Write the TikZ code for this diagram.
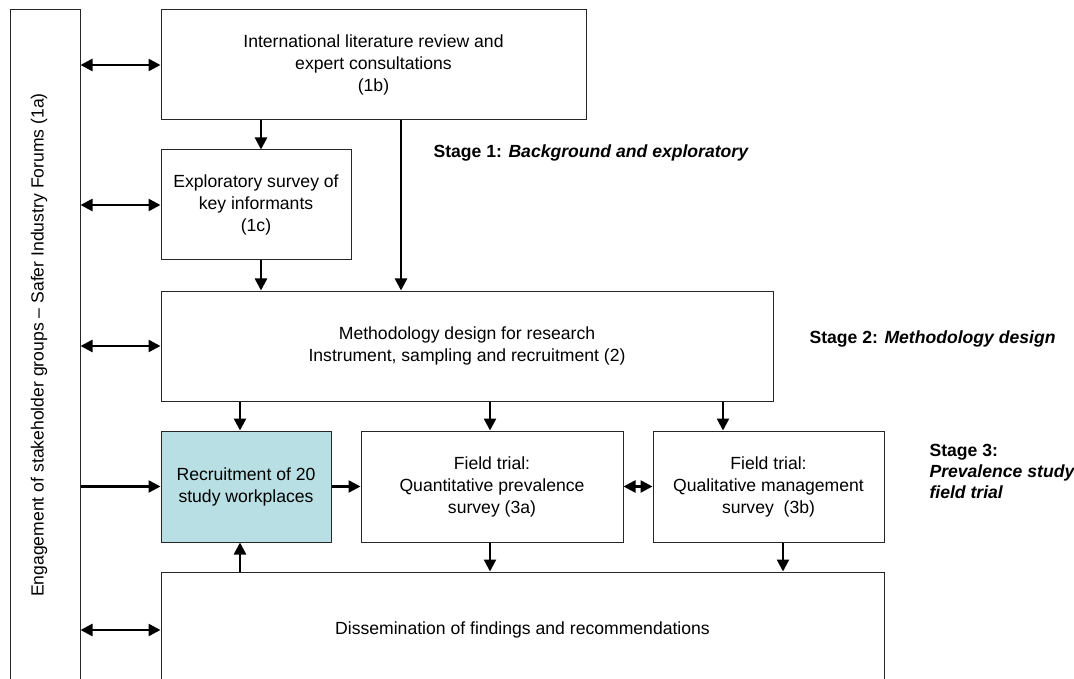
\documentclass[tikz,border=0pt]{standalone}
\usepackage{fontspec}
\setmainfont{Liberation Sans}
\usetikzlibrary{arrows.meta}
\begin{document}
\begin{tikzpicture}[x=1pt,y=-1pt,
  box/.style={draw=black!85, line width=1pt, align=center, inner sep=0pt, font=\fontsize{17.6}{22}\selectfont},
  arr/.style={line width=2.5pt, -{Triangle[length=12pt,width=12pt]}},
  darr/.style={line width=2.5pt, {Triangle[length=12pt,width=12pt]}-{Triangle[length=12pt,width=12pt]}},
  stage/.style={font=\fontsize{17.6}{21}\selectfont\bfseries, anchor=west, align=left}]
\useasboundingbox (0,0) rectangle (1074,679);
\clip (0,0) rectangle (1074,679);
% nodes
\node[box, minimum width=70pt, minimum height=696pt] (eng) at (45,358) {};
\node[rotate=90, font=\fontsize{17.6}{22}\selectfont] (englabel) at (39,345) {Engagement of stakeholder groups – Safer Industry Forums (1a)};
\node[box, minimum width=425pt, minimum height=110pt] (lit) at (373.5,65) {International literature review and\\expert consultations\\(1b)};
\node[box, minimum width=190pt, minimum height=110pt] (expl) at (256,205) {Exploratory survey of\\key informants\\(1c)};
\node[box, minimum width=612pt, minimum height=110pt] (meth) at (467,346) {Methodology design for research\\Instrument, sampling and recruitment (2)};
\node[box, fill={rgb,255:red,184;green,223;blue,227}, minimum width=170pt, minimum height=111pt] (recr) at (246,486.5) {Recruitment of 20\\study workplaces};
\node[box, minimum width=262pt, minimum height=111pt] (qa) at (492,486.5) {Field trial:\\Quantitative prevalence\\survey (3a)};
\node[box, minimum width=231pt, minimum height=111pt] (qb) at (768.5,486.5) {Field trial:\\Qualitative management\\survey~~(3b)};
\node[box, minimum width=723pt, minimum height=116pt] (diss) at (522.5,630) {Dissemination of findings and recommendations};
% stage labels
\node[stage] (s1) at (430,153) {Stage 1: \itshape Background and exploratory};
\node[stage] (s2) at (806,339) {Stage 2: \itshape Methodology design};
\node[stage] (s3) at (926,471) {Stage 3:\\\itshape Prevalence study\\\itshape field trial};
% connectors
\draw[darr] (eng.east |- lit.west) -- (lit.west);
\draw[darr] (eng.east |- expl.west) -- (expl.west);
\draw[darr] (eng.east |- meth.west) -- (meth.west);
\draw[darr] (eng.east |- diss.west) -- (diss.west);
\draw[arr] (eng.east |- recr.west) -- (recr.west);
\draw[arr] ([xshift=5pt]expl.north |- lit.south) -- ([xshift=5pt]expl.north);
\draw[arr] ([xshift=27.5pt]lit.south) -- ([xshift=27.5pt]lit.south |- meth.north);
\draw[arr] ([xshift=5pt]expl.south) -- ([xshift=5pt]expl.south |- meth.north);
\draw[arr] ([xshift=-6pt]recr.north |- meth.south) -- ([xshift=-6pt]recr.north);
\draw[arr] ([xshift=-2pt]qa.north |- meth.south) -- ([xshift=-2pt]qa.north);
\draw[arr] ([xshift=-45.5pt]qb.north |- meth.south) -- ([xshift=-45.5pt]qb.north);
\draw[arr] (recr.east) -- (qa.west);
\draw[darr] (qa.east) -- (qb.west);
\draw[arr] ([xshift=-2pt]qa.south) -- ([xshift=-2pt]qa.south |- diss.north);
\draw[arr] ([xshift=14.5pt]qb.south) -- ([xshift=14.5pt]qb.south |- diss.north);
\draw[arr] ([xshift=-6pt]recr.south |- diss.north) -- ([xshift=-6pt]recr.south);
\end{tikzpicture}
\end{document}
